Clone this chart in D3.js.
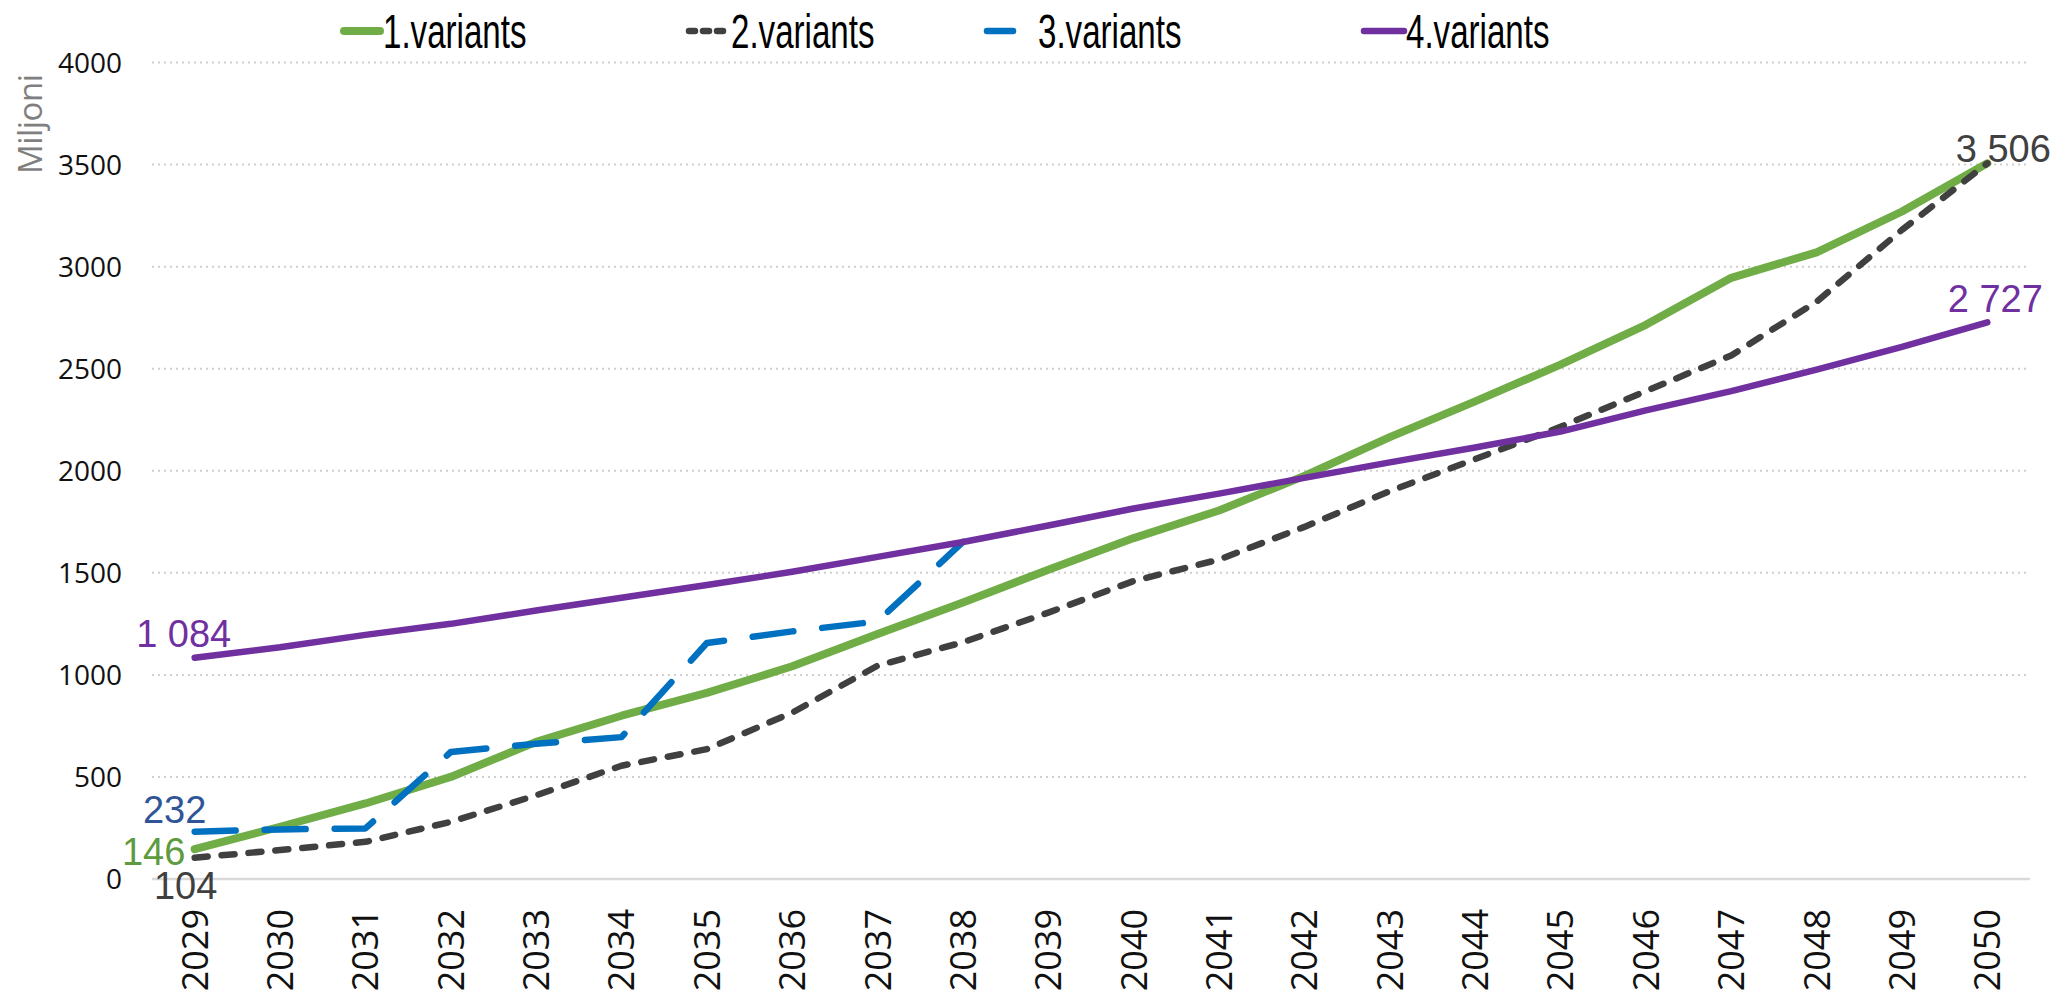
<!DOCTYPE html>
<html>
<head>
<meta charset="utf-8">
<script src="https://cdn.jsdelivr.net/npm/d3@7"></script>
<style>
  html, body { margin: 0; padding: 0; background: #ffffff; }
  svg { display: block; }
</style>
</head>
<body>
<svg id="chart" width="2057" height="995"></svg>
<script>
// ---- data ----
const years = [2029, 2030, 2031, 2032, 2033, 2034, 2035, 2036, 2037, 2038, 2039,
               2040, 2041, 2042, 2043, 2044, 2045, 2046, 2047, 2048, 2049, 2050];
const seriesNames = ["1.variants", "2.variants", "3.variants", "4.variants"];
const variant1 = [146, 256, 370, 500, 672, 800, 912, 1042, 1200, 1355, 1515,
                  1670, 1805, 1975, 2165, 2340, 2520, 2715, 2945, 3070, 3270, 3506];
const variant2 = [104, 142, 182, 280, 410, 555, 636, 815, 1045, 1160, 1305,
                  1460, 1565, 1725, 1900, 2057, 2215, 2390, 2565, 2828, 3180, 3506];
const variant3 = [232, 243, 248, 622, 663, 695, 1156, 1213, 1262, 1651, null,
                  null, null, null, null, null, null, null, null, null, null, null];
const variant4 = [1084, 1135, 1196, 1250, 1315, 1378, 1440, 1505, 1578, 1651, 1732,
                  1815, 1888, 1965, 2041, 2114, 2192, 2296, 2390, 2495, 2607, 2727];
const yTicks = [0, 500, 1000, 1500, 2000, 2500, 3000, 3500, 4000];
const yTitle = "Miljoni";
// data labels: [series index, year, text]
const dataLabels = [
  [0, 2029, "146"], [1, 2029, "104"], [2, 2029, "232"], [3, 2029, "1 084"],
  [1, 2050, "3 506"], [3, 2050, "2 727"]
];

// ---- styles ----
const colors = ["#70AD47", "#404040", "#0070C0", "#7030A0"];
const labelColors = ["#5E9A3E", "#404040", "#2F5597", "#7030A0"];
const dashes = [null, "13,14", "41,29", null];
const widths = [8, 6.5, 6.5, 6.5];

const svg = d3.select("#chart");
const plot = { left: 152, right: 2030, top: 62.5, bottom: 879 };

const x = d3.scaleBand().domain(years).range([plot.left, plot.right]).padding(0);
const xc = d => x(d) + x.bandwidth() / 2;
const y = d3.scaleLinear().domain([0, 4000]).range([plot.bottom, plot.top]);

// gridlines
const grid = svg.append("g");
grid.selectAll("line.grid").data(yTicks.filter(t => t > 0)).join("line")
  .attr("x1", plot.left).attr("x2", plot.right)
  .attr("y1", d => y(d)).attr("y2", d => y(d))
  .attr("stroke", "#cfcfcf").attr("stroke-width", 2)
  .attr("stroke-dasharray", "2,4");
grid.append("line")
  .attr("x1", plot.left).attr("x2", plot.right)
  .attr("y1", y(0)).attr("y2", y(0))
  .attr("stroke", "#d9d9d9").attr("stroke-width", 2.5);

// y axis labels
const yAxis = d3.axisLeft(y).tickValues(yTicks).tickSize(0).tickPadding(0)
  .tickFormat(d3.format("d"));
const gy = svg.append("g").attr("transform", `translate(122,0)`).call(yAxis);
gy.select(".domain").remove();
gy.selectAll("text")
  .attr("font-family", "'Open Sans', sans-serif")
  .attr("font-size", 28)
  .attr("fill", "#111")
  .attr("dy", "0.35em");

// x axis labels
const xAxis = d3.axisBottom(x).tickSize(0).tickPadding(0);
const gx = svg.append("g").attr("transform", `translate(0,909)`).call(xAxis);
gx.select(".domain").remove();
gx.selectAll("text")
  .attr("font-family", "'Open Sans', sans-serif")
  .attr("font-size", 36)
  .attr("fill", "#111")
  .attr("text-anchor", "end")
  .attr("transform", "rotate(-90)")
  .attr("x", 0).attr("y", 0)
  .attr("dx", 0).attr("dy", "0.36em");

// y title
svg.append("text")
  .attr("transform", `translate(42,124) rotate(-90)`)
  .attr("text-anchor", "middle")
  .attr("font-family", "'Open Sans', sans-serif")
  .attr("font-size", 33)
  .attr("fill", "#7f7f7f")
  .attr("textLength", 100)
  .attr("lengthAdjust", "spacing")
  .text(yTitle);

// lines
const allSeries = [variant1, variant2, variant3, variant4];
const line = d3.line()
  .defined(d => d.v !== null)
  .x(d => xc(d.year)).y(d => y(d.v));
allSeries.forEach((vals, i) => {
  const pts = years.map((yr, j) => ({ year: yr, v: vals[j] }));
  const p = svg.append("path")
    .datum(pts)
    .attr("d", line)
    .attr("fill", "none")
    .attr("stroke", colors[i])
    .attr("stroke-width", widths[i])
    .attr("stroke-linecap", "round")
    .attr("stroke-linejoin", "round");
  if (dashes[i]) p.attr("stroke-dasharray", dashes[i]);
});

// data labels
const labelOffsets = {
  "0-2029": [-41, 16], "1-2029": [-9, 41], "2-2029": [-20, -9], "3-2029": [-11, -11],
  "1-2050": [16, -1], "3-2050": [8, -10]
};
dataLabels.forEach(([si, yr, txt]) => {
  const v = allSeries[si][years.indexOf(yr)];
  const off = labelOffsets[si + "-" + yr];
  svg.append("text")
    .attr("x", xc(yr) + off[0])
    .attr("y", y(v) + off[1])
    .attr("text-anchor", "middle")
    .attr("font-family", "'Liberation Sans', Arial, sans-serif")
    .attr("font-size", 38)
    .attr("fill", labelColors[si])
    .text(txt);
});

// legend
const legendItems = [
  { x1: 344, x2: 380, tx: 383 },
  { x1: 689, x2: 728, tx: 731 },
  { x1: 987, x2: 1013, tx: 1038 },
  { x1: 1364, x2: 1404, tx: 1406 }
];
const lg = svg.append("g");
legendItems.forEach((it, i) => {
  const l = lg.append("line")
    .attr("x1", it.x1).attr("x2", it.x2)
    .attr("y1", 31).attr("y2", 31)
    .attr("stroke", colors[i])
    .attr("stroke-width", widths[i])
    .attr("stroke-linecap", "round");
  if (i === 1) l.attr("stroke-dasharray", "6,8");
  lg.append("text")
    .attr("transform", `translate(${it.tx},48) scale(0.69,1)`)
    .attr("font-family", "'Liberation Sans', Arial, sans-serif")
    .attr("font-size", 48)
    .attr("fill", "#000")
    .text(seriesNames[i]);
});
</script>
</body>
</html>
